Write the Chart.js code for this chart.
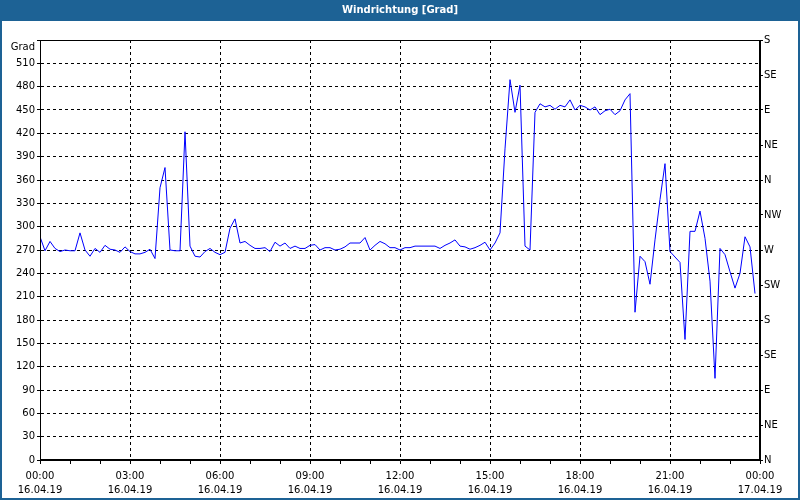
<!DOCTYPE html>
<html>
<head>
<meta charset="utf-8">
<script src="https://cdn.jsdelivr.net/npm/chart.js@4/dist/chart.umd.min.js"></script>
<style>
  body { margin: 0; background: #fff; }
  canvas { display: block; }
</style>
</head>
<body>
<canvas id="chart" width="800" height="500"></canvas>
<script>
// wind direction in degrees, one value every 10 minutes from 00:00
const stepMinutes = 10;
const windDir = [
  287, 269, 281, 272, 268, 270, 269, 269, 292, 270, 262, 272, 267, 276, 271, 270, 267, 274, 268,
  265, 265, 267, 271, 259, 350, 376, 270, 269, 269, 422, 275, 262, 261, 268, 272, 267, 264,
  267, 298, 310, 279, 281, 276, 272, 272, 273, 268, 280, 275, 279, 272, 275, 272, 272, 276,
  277, 270, 273, 273, 270, 271, 274, 279, 279, 279, 286, 270, 276, 281, 278, 273, 273, 270,
  273, 273, 275, 275, 275, 275, 275, 272, 276, 279, 283, 275, 274, 271, 273, 276, 280, 270, 279,
  292, 400, 489, 447, 482, 275, 270,
  447, 458, 454, 456, 451, 456, 454, 463, 450, 456, 454, 450, 454, 444, 449, 451, 444, 449, 463, 471,
  190, 262, 255, 226, 283, 335, 381, 268, 261, 254, 155, 294, 294, 320, 285, 230, 105, 272, 264,
  242, 221, 240, 287, 274, 214
];

const xTimes = ["00:00", "03:00", "06:00", "09:00", "12:00", "15:00", "18:00", "21:00", "00:00"];
const xDates = ["16.04.19", "16.04.19", "16.04.19", "16.04.19", "16.04.19", "16.04.19", "16.04.19", "16.04.19", "17.04.19"];
const compass = ["N", "NE", "E", "SE", "S", "SW", "W", "NW", "N", "NE", "E", "SE", "S"];

const font = { family: "DejaVu Sans", size: 10, lineHeight: "14px" };

// blue frame + title bar, solid box around the plot
const frame = {
  id: "frame",
  beforeDraw(chart) {
    const c = chart.ctx;
    c.save();
    c.fillStyle = "#1d6295";
    c.fillRect(0, 0, chart.width, chart.height);
    c.fillStyle = "#ffffff";
    c.fillRect(2, 21, chart.width - 4, chart.height - 23);
    c.restore();
  },
  afterDraw(chart) {
    const a = chart.chartArea;
    const c = chart.ctx;
    c.save();
    c.strokeStyle = "#000";
    c.lineWidth = 1;
    c.strokeRect(Math.round(a.left) + 0.5, Math.round(a.top) + 0.5,
                 Math.round(a.right - a.left) - 1, Math.round(a.bottom - a.top) - 1);
    c.restore();
  }
};

new Chart(document.getElementById("chart"), {
  type: "line",
  data: {
    datasets: [{
      data: windDir.map((v, i) => ({ x: i * stepMinutes, y: v })),
      borderColor: "#0000ff",
      borderWidth: 1,
      pointRadius: 0,
      tension: 0
    }]
  },
  options: {
    responsive: false,
    animation: false,
    layout: { padding: 0 },
    plugins: {
      legend: { display: false },
      tooltip: { enabled: false },
      title: {
        display: true,
        text: "Windrichtung [Grad]",
        color: "#ffffff",
        font: { family: "DejaVu Sans", size: 10, weight: "bold", lineHeight: "14px" },
        padding: { top: 3, bottom: 23 }
      }
    },
    scales: {
      x: {
        type: "linear",
        min: 0,
        max: 1440,
        afterFit: s => { s.height = 40; },
        ticks: {
          stepSize: 60,
          autoSkip: false,
          maxRotation: 0,
          color: "#000",
          font: font,
          padding: 5,
          callback: v => v % 180 === 0 ? [xTimes[v / 180], xDates[v / 180]] : ""
        },
        grid: {
          color: c => c.tick && c.tick.value % 180 === 0 ? "#000" : "rgba(0,0,0,0)",
          tickColor: "#000",
          tickLength: 4,
          lineWidth: 1
        },
        border: { color: "#000", dash: [3, 3] }
      },
      y: {
        position: "left",
        min: 0,
        max: 540,
        afterFit: s => { s.width = 40; },
        ticks: {
          stepSize: 30,
          autoSkip: false,
          color: "#000",
          font: font,
          padding: 2,
          callback: v => v === 540 ? ["", "Grad"] : v
        },
        grid: { color: "#000", tickColor: "#000", tickLength: 3 },
        border: { color: "#000", dash: [3, 3] }
      },
      y2: {
        position: "right",
        min: 0,
        max: 540,
        afterFit: s => { s.width = 40; },
        ticks: {
          stepSize: 45,
          autoSkip: false,
          color: "#000",
          font: font,
          padding: 1,
          callback: v => compass[v / 45]
        },
        grid: { drawOnChartArea: false, color: "#000", tickColor: "#000", tickLength: 3 },
        border: { color: "#000" }
      }
    }
  },
  plugins: [frame]
});
</script>
</body>
</html>
